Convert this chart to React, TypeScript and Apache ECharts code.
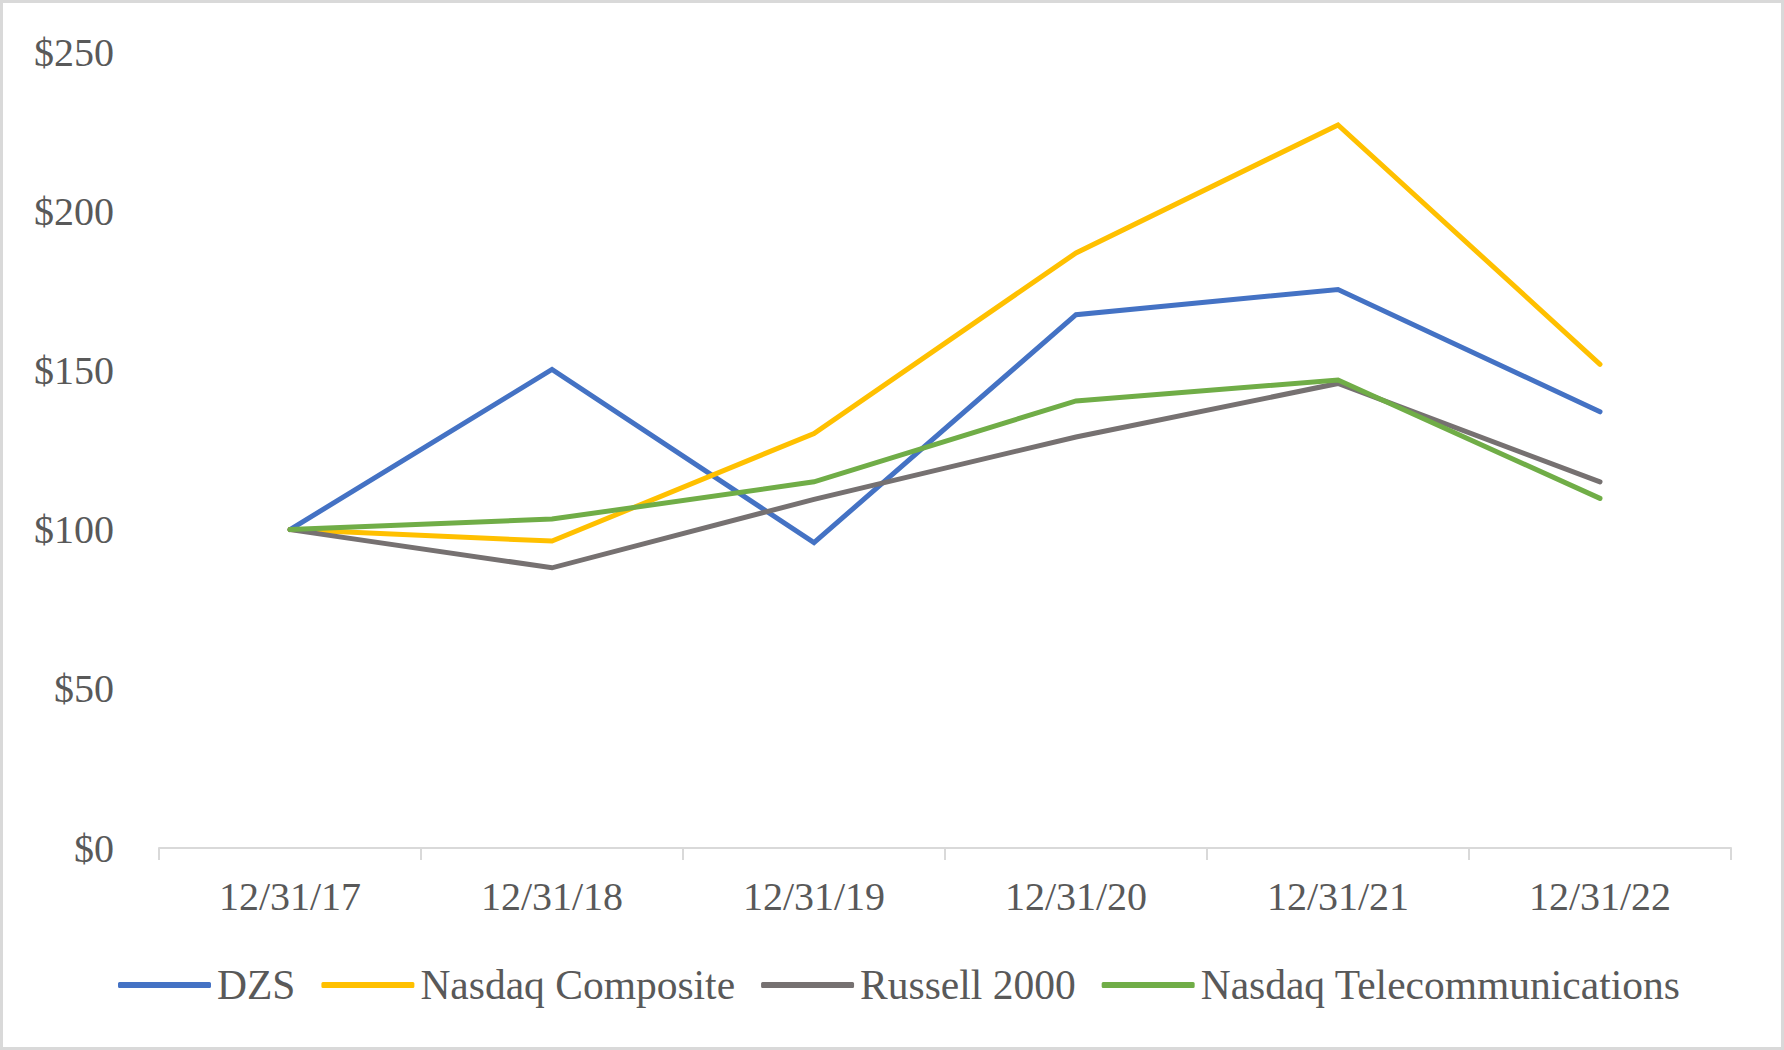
import React, { useEffect, useRef } from "react";
import * as echarts from "echarts";

const categories = ["12/31/17", "12/31/18", "12/31/19", "12/31/20", "12/31/21", "12/31/22"];
const seriesNames = ["DZS", "Nasdaq Composite", "Russell 2000", "Nasdaq Telecommunications"];
const dzs = [100, 150.3, 95.9, 167.5, 175.4, 137.0];
const nasdaqComposite = [100, 96.4, 130.2, 186.9, 227.1, 151.9];
const russell2000 = [100, 88.0, 109.5, 129.1, 145.9, 115.0];
const nasdaqTelecom = [100, 103.3, 115.0, 140.4, 147.0, 109.8];
const colors = ["#4472C4", "#FFC000", "#767171", "#70AD47"];

const FONT = "'Liberation Serif', 'Times New Roman', serif";

export default function App() {
  const ref = useRef<HTMLDivElement>(null);
  useEffect(() => {
    if (!ref.current) return;
    const chart = echarts.init(ref.current, undefined, { renderer: "svg" });
    const datasets = [dzs, nasdaqComposite, russell2000, nasdaqTelecom];
    chart.setOption({
      animation: false,
      backgroundColor: "transparent",
      grid: { left: 159, right: 53, top: 52, bottom: 202, containLabel: false },
      legend: {
        data: seriesNames,
        top: 964,
        left: 118,
        padding: 0,
        icon: "roundRect",
        itemWidth: 93,
        itemHeight: 6,
        itemGap: 26,
        textStyle: { fontFamily: FONT, fontSize: 41.5, color: "#595959", padding: [0, 0, 0, 1] },
      },
      xAxis: {
        type: "category",
        data: categories,
        boundaryGap: true,
        axisLine: { lineStyle: { color: "#D9D9D9", width: 2 } },
        axisTick: { show: true, length: 12, lineStyle: { color: "#D9D9D9", width: 2 } },
        axisLabel: { fontFamily: FONT, fontSize: 40, color: "#595959", margin: 28 },
        splitLine: { show: false },
      },
      yAxis: {
        type: "value",
        min: 0,
        max: 250,
        interval: 50,
        axisLine: { show: false },
        axisTick: { show: false },
        splitLine: { show: false },
        axisLabel: {
          fontFamily: FONT,
          fontSize: 40,
          color: "#595959",
          margin: 45,
          formatter: (v: number) => "$" + v,
        },
      },
      series: seriesNames.map((name, i) => ({
        name,
        type: "line",
        data: datasets[i],
        symbol: "none",
        color: colors[i],
        lineStyle: { color: colors[i], width: 5, cap: "round", join: "miter" },
      })),
    });
    return () => chart.dispose();
  }, []);
  return (
    <div
      style={{
        position: "fixed",
        left: 0,
        top: 0,
        width: 1784,
        height: 1050,
        boxSizing: "border-box",
        border: "3px solid #D9D9D9",
        background: "#fff",
      }}
    >
      <div ref={ref} style={{ position: "absolute", left: -3, top: -3, width: 1784, height: 1050 }} />
    </div>
  );
}
